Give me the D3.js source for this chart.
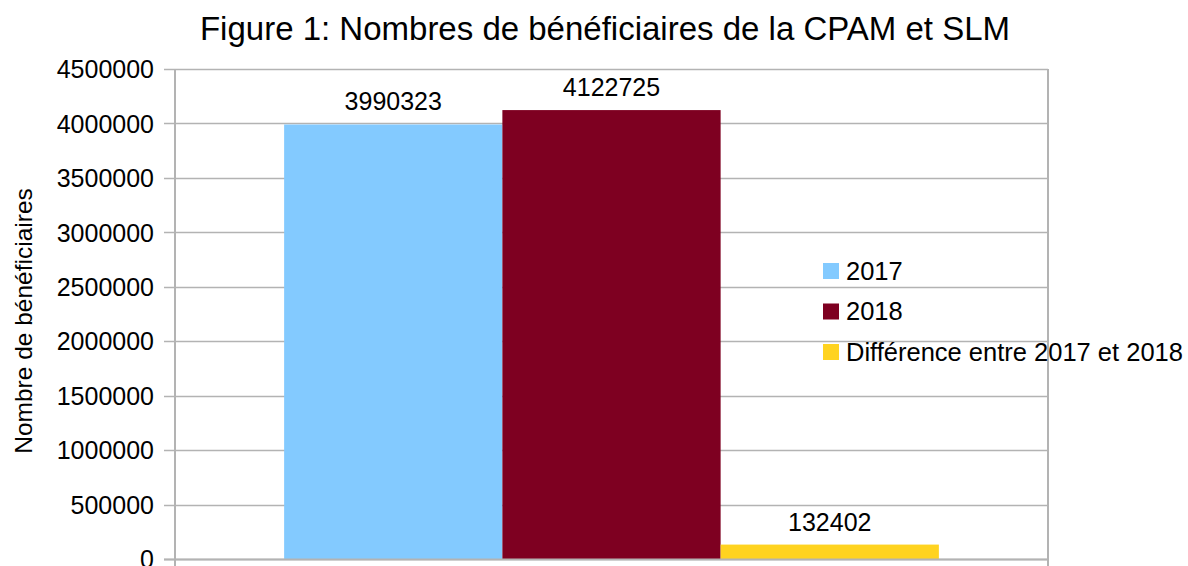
<!DOCTYPE html>
<html lang="fr">
  <head>
    <meta charset="utf-8">
    <title>Figure 1</title>
    <script src="https://cdn.jsdelivr.net/npm/d3@7"></script>
    <style type="text/css">
      body { margin: 0; background: white; }
      text {
        font-family: "Liberation Sans", Arial, sans-serif;
        fill: black;
      }
    </style>
  </head>
  <body>
    <div id="svg-area"></div>
    <script>
      const svg_width = 1188;
      const svg_height = 566;

      // data
      const categories = [""];
      const series_names = ["2017", "2018", "Différence entre 2017 et 2018"];
      const values_2017 = [3990323];
      const values_2018 = [4122725];
      const values_diff = [132402];
      const y_ticks = [0, 500000, 1000000, 1500000, 2000000, 2500000, 3000000, 3500000, 4000000, 4500000];
      const colors = ["#83caff", "#7e0021", "#ffd320"];

      const series = [values_2017, values_2018, values_diff];

      const plot = {left: 175, right: 1048, top: 69, bottom: 559};

      const svg = d3.select('#svg-area')
        .append('svg')
        .attr('width', svg_width)
        .attr('height', svg_height);

      const x = d3.scaleBand()
        .domain(categories)
        .range([plot.left, plot.right])
        .paddingInner(0)
        .paddingOuter(0);

      // three bars take 3/4 of the category, centered
      const x_inner = d3.scaleBand()
        .domain(series_names)
        .range([0, x.bandwidth()])
        .paddingOuter(0.5)
        .paddingInner(0);

      const y = d3.scaleLinear()
        .domain([0, 4500000])
        .range([plot.bottom, plot.top]);

      //horizontal gridlines
      svg.append('g')
        .selectAll('line')
        .data(y_ticks)
        .enter()
        .append('line')
        .attr('x1', plot.left - 11)
        .attr('x2', plot.right)
        .attr('y1', d => Math.round(y(d)) + 0.5)
        .attr('y2', d => Math.round(y(d)) + 0.5)
        .attr('stroke', '#b3b3b3')
        .attr('stroke-width', 1.5);

      //y axis labels
      const y_axis = d3.axisLeft(y)
        .tickValues(y_ticks)
        .tickFormat(d3.format('d'))
        .tickSize(0)
        .tickPadding(21);
      const y_axis_g = svg.append('g')
        .attr('transform', `translate(${plot.left},0)`)
        .call(y_axis);
      y_axis_g.select('.domain').remove();
      y_axis_g.selectAll('text')
        .style('font-family', '"Liberation Sans", Arial, sans-serif')
        .style('font-size', '25px')
        .attr('fill', 'black')
        .attr('dy', '0.35em');

      //bars
      const bar_groups = svg.selectAll('g.serie')
        .data(series)
        .enter()
        .append('g')
        .attr('class', 'serie')
        .attr('fill', (d, i) => colors[i]);

      bar_groups.each(function(vals, si) {
        const g = d3.select(this);
        g.selectAll('rect')
          .data(vals)
          .enter()
          .append('rect')
          .attr('x', (d, ci) => x(categories[ci]) + x_inner(series_names[si]))
          .attr('width', x_inner.bandwidth())
          .attr('y', d => y(d))
          .attr('height', d => y(0) - y(d));
        g.selectAll('text')
          .data(vals)
          .enter()
          .append('text')
          .attr('x', (d, ci) => x(categories[ci]) + x_inner(series_names[si]) + x_inner.bandwidth() / 2)
          .attr('y', d => y(d) - 14)
          .attr('text-anchor', 'middle')
          .style('font-size', '25px')
          .style('fill', 'black')
          .text(d => d);
      });

      //frame: left axis, right border, bottom line
      svg.append('line')
        .attr('x1', plot.left).attr('x2', plot.left)
        .attr('y1', plot.top).attr('y2', svg_height)
        .attr('stroke', '#b3b3b3').attr('stroke-width', 2);
      svg.append('line')
        .attr('x1', plot.right).attr('x2', plot.right)
        .attr('y1', plot.top).attr('y2', svg_height)
        .attr('stroke', '#b3b3b3').attr('stroke-width', 2);
      svg.append('line')
        .attr('x1', plot.left - 11).attr('x2', plot.right)
        .attr('y1', plot.bottom + 0.5).attr('y2', plot.bottom + 0.5)
        .attr('stroke', '#b3b3b3').attr('stroke-width', 2);

      //title
      svg.append('text')
        .attr('x', 605)
        .attr('y', 40)
        .attr('text-anchor', 'middle')
        .style('font-size', '33px')
        .text('Figure 1: Nombres de bénéficiaires de la CPAM et SLM');

      //y axis title
      svg.append('text')
        .attr('transform', 'translate(32,321) rotate(-90)')
        .attr('text-anchor', 'middle')
        .style('font-size', '24.5px')
        .text('Nombre de bénéficiaires');

      //legend
      const legend = svg.append('g')
        .attr('transform', 'translate(823,271)');
      const legend_items = legend.selectAll('g')
        .data(series_names)
        .enter()
        .append('g')
        .attr('transform', (d, i) => `translate(0,${i * 40.5})`);
      legend_items.append('rect')
        .attr('x', 0)
        .attr('y', -8)
        .attr('width', 16)
        .attr('height', 16)
        .attr('fill', (d, i) => colors[i]);
      legend_items.append('text')
        .attr('x', 23)
        .attr('y', 0)
        .attr('dy', '0.35em')
        .style('font-size', '25.5px')
        .text(d => d);
    </script>
  </body>
</html>
